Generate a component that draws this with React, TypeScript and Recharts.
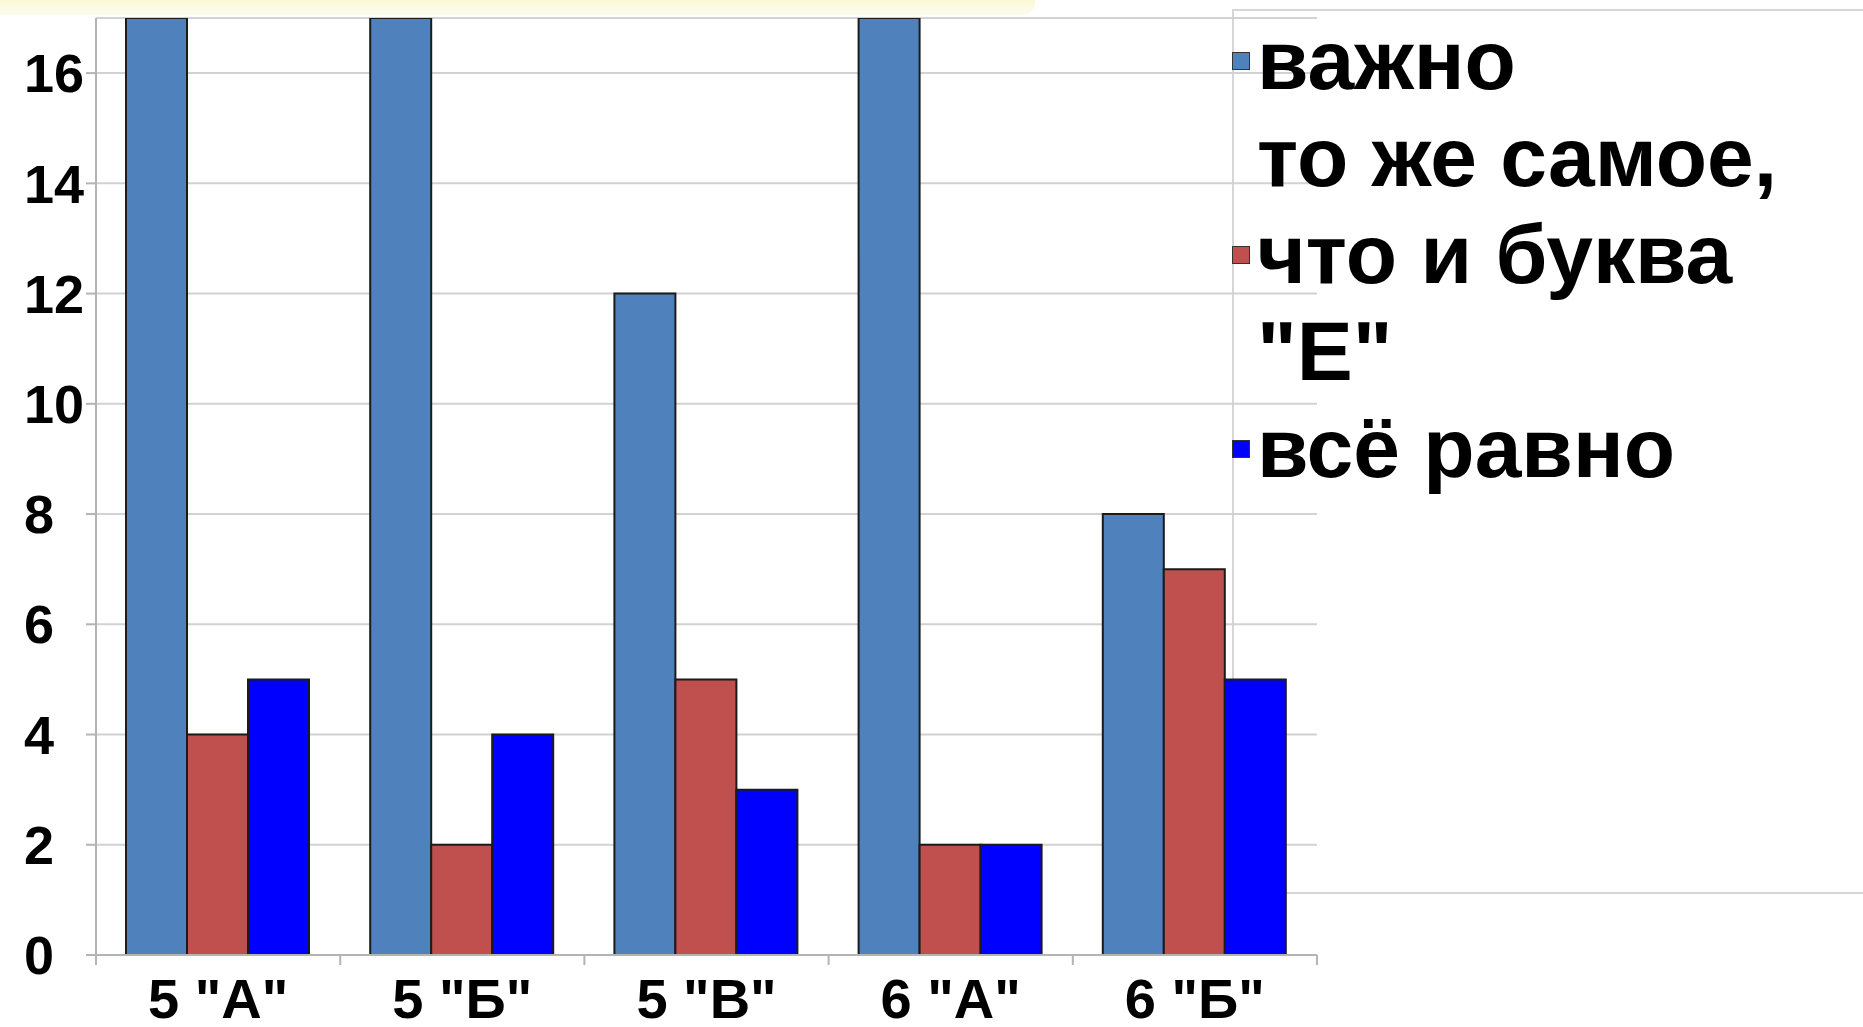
import React from "react";
import { BarChart, Bar, XAxis, YAxis, CartesianGrid } from "recharts";

const CATEGORIES = ['5 "А"', '5 "Б"', '5 "В"', '6 "А"', '6 "Б"'];
const IMPORTANT = [17, 17, 12, 17, 8];
const SAME_AS_E = [4, 2, 5, 2, 7];
const NO_MATTER = [5, 4, 3, 2, 5];
const Y_TICKS = [0, 2, 4, 6, 8, 10, 12, 14, 16];

const SERIES = [
  { key: "important", name: "важно", color: "#4F81BD" },
  { key: "sameAsE", name: 'то же самое, что и буква "Е"', color: "#C0504D" },
  { key: "noMatter", name: "всё равно", color: "#0000FF" },
];

const FONT = '"Liberation Sans", Arial, sans-serif';
const GRID = "#d2d2d2";
const AXIS = "#b4b4b4";

const data = CATEGORIES.map((c, i) => ({
  name: c,
  important: IMPORTANT[i],
  sameAsE: SAME_AS_E[i],
  noMatter: NO_MATTER[i],
}));

const YTick = (props: any) => {
  const { y, payload } = props;
  return (
    <text
      x={24}
      y={y}
      dy="0.355em"
      textAnchor="start"
      fontFamily={FONT}
      fontWeight="bold"
      fontSize={54}
      fill="#000"
    >
      {payload.value}
    </text>
  );
};

const XTick = (props: any) => {
  const { x, y, payload, index, width, visibleTicksCount } = props;
  const band = width / visibleTicksCount;
  const axisY = y - 10;
  return (
    <g>
      <line x1={x - band / 2} x2={x - band / 2} y1={axisY} y2={axisY + 10} stroke={AXIS} strokeWidth={2} />
      {index === visibleTicksCount - 1 && (
        <line x1={x + band / 2} x2={x + band / 2} y1={axisY} y2={axisY + 10} stroke={AXIS} strokeWidth={2} />
      )}
      <text
        x={x}
        y={y}
        dy={53}
        textAnchor="middle"
        fontFamily={FONT}
        fontWeight="bold"
        fontSize={56}
        fill="#000"
      >
        {payload.value}
      </text>
    </g>
  );
};

const legendBox = { position: "absolute" as const, left: 1232, top: 9, width: 700, height: 885 };

export default function App() {
  return (
    <div style={{ position: "absolute", left: 0, top: 0, width: 1863, height: 1027, background: "#fff", overflow: "hidden" }}>
      <div
        style={{
          position: "absolute",
          left: 0,
          top: 0,
          width: 1035,
          height: 15,
          background: "linear-gradient(to bottom, #fbf8d6, #fdfcef)",
          borderBottomRightRadius: 12,
        }}
      />
      {/* legend frame sits behind the bars */}
      <div style={{ ...legendBox, border: "2px solid #d6d6d6", boxSizing: "border-box" }} />
      <BarChart
        width={1863}
        height={1027}
        data={data}
        margin={{ top: 18, right: 546, left: 0, bottom: 0 }}
        barCategoryGap={30}
        barGap={0}
      >
        <CartesianGrid vertical={false} stroke={GRID} strokeWidth={2} />
        <XAxis
          dataKey="name"
          height={72}
          axisLine={{ stroke: AXIS, strokeWidth: 2 }}
          tickLine={false}
          tickSize={10}
          tickMargin={0}
          tick={<XTick />}
          interval={0}
        />
        <YAxis
          width={96}
          domain={[0, 17]}
          ticks={Y_TICKS}
          allowDataOverflow
          axisLine={{ stroke: AXIS, strokeWidth: 2 }}
          tickLine={{ stroke: AXIS, strokeWidth: 2 }}
          tickSize={10}
          tick={<YTick />}
        />
        {SERIES.map((s) => (
          <Bar
            key={s.key}
            dataKey={s.key}
            name={s.name}
            fill={s.color}
            stroke="#1b1b1b"
            strokeWidth={2}
            isAnimationActive={false}
          />
        ))}
      </BarChart>
      <div
        style={{
          ...legendBox,
          padding: "3px 0 0 0",
          boxSizing: "border-box",
          fontFamily: FONT,
          fontWeight: "bold",
          fontSize: 84,
          lineHeight: "97px",
          color: "#000",
        }}
      >
        {SERIES.map((s) => (
          <div key={s.key} style={{ display: "flex", alignItems: "center" }}>
            <div
              style={{
                width: 18,
                height: 18,
                marginRight: 7,
                background: s.color,
                border: "1px solid #333",
                boxSizing: "border-box",
                flex: "none",
              }}
            />
            <div style={{ maxWidth: 580 }}>{s.name}</div>
          </div>
        ))}
      </div>
    </div>
  );
}
